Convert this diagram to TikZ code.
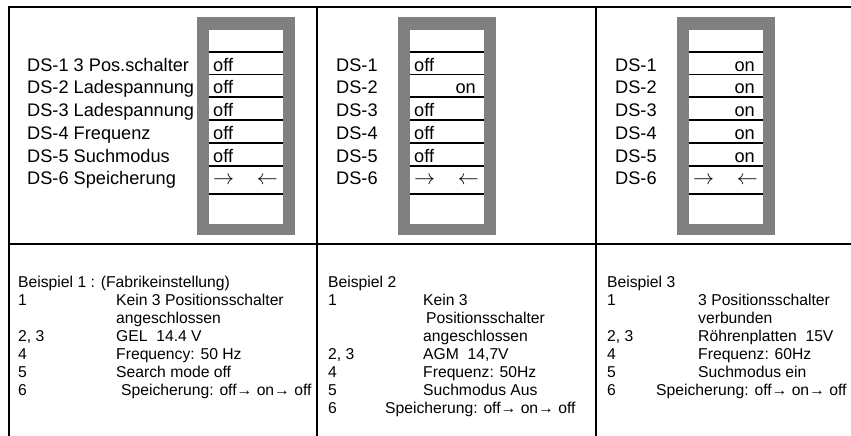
\documentclass[tikz,border=0pt]{standalone}
\usepackage{fix-cm}
\usepackage{fontspec}
\setmainfont{Liberation Sans}
\begin{document}
\begin{tikzpicture}[x=1pt,y=-1pt,
    rule/.style={line width=2.3pt},
    swline/.style={line width=1.3pt},
    lbl/.style={anchor=base west,inner sep=0pt,font=\fontsize{18.2}{22}\selectfont},
    onlbl/.style={anchor=base east,inner sep=0pt,font=\fontsize{18.2}{22}\selectfont},
    arr/.style={inner sep=0pt,font=\fontsize{21}{22}\selectfont},
    txt/.style={anchor=base west,inner sep=0pt,font=\fontsize{15.7}{18}\selectfont}]
            \useasboundingbox (0,0) rectangle (851,436);
            % table
            \draw[rule] (7.85,7) -- (851,7);
            \draw[rule] (7.85,244) -- (851,244);
            \draw[rule] (9,7) -- (9,436);
            \draw[rule] (317,7) -- (317,436);
            \draw[rule] (596,7) -- (596,436);
            % switch blocks
            \foreach \x in {197,398,677} {
                \fill[gray] (\x,17) rectangle (\x+98,235);
                \fill[white] (\x+12,30) rectangle (\x+86,224);
                \foreach \y in {52,74.5,97,120,143,166,194}
                    \draw[swline] (\x+12,\y) -- (\x+86,\y);
            }
            % Beispiel 1
            \node[lbl] (a1) at (27,71) {DS-1 3 Pos.schalter};
            \node[lbl] (a2) at (27,93.5) {DS-2 Ladespannung};
            \node[lbl] (a3) at (27,116.5) {DS-3 Ladespannung};
            \node[lbl] (a4) at (27,139.5) {DS-4 Frequenz};
            \node[lbl] (a5) at (27,162.5) {DS-5 Suchmodus};
            \node[lbl] (a6) at (27,184) {DS-6 Speicherung};
            \node[lbl] (sa1) at (213,71) {off};
            \node[lbl] (sa2) at (213,93.5) {off};
            \node[lbl] (sa3) at (213,116.5) {off};
            \node[lbl] (sa4) at (213,139.5) {off};
            \node[lbl] (sa5) at (213,162.5) {off};
            \node[arr,anchor=west] (ra) at (213,181) {$\rightarrow$};
            \node[arr,anchor=east] (la) at (278,181) {$\leftarrow$};
            % Beispiel 2
            \node[lbl] (b1) at (336,71) {DS-1};
            \node[lbl] (b2) at (336,93.5) {DS-2};
            \node[lbl] (b3) at (336,116.5) {DS-3};
            \node[lbl] (b4) at (336,139.5) {DS-4};
            \node[lbl] (b5) at (336,162.5) {DS-5};
            \node[lbl] (b6) at (336,184) {DS-6};
            \node[lbl] (sb1) at (414,71) {off};
            \node[onlbl] (sb2) at (476,93.5) {on};
            \node[lbl] (sb3) at (414,116.5) {off};
            \node[lbl] (sb4) at (414,139.5) {off};
            \node[lbl] (sb5) at (414,162.5) {off};
            \node[arr,anchor=west] (rb) at (414,181) {$\rightarrow$};
            \node[arr,anchor=east] (lb) at (479,181) {$\leftarrow$};
            % Beispiel 3
            \node[lbl] (c1) at (615,71) {DS-1};
            \node[lbl] (c2) at (615,93.5) {DS-2};
            \node[lbl] (c3) at (615,116.5) {DS-3};
            \node[lbl] (c4) at (615,139.5) {DS-4};
            \node[lbl] (c5) at (615,162.5) {DS-5};
            \node[lbl] (c6) at (615,184) {DS-6};
            \node[onlbl] (sc1) at (755,71) {on};
            \node[onlbl] (sc2) at (755,93.5) {on};
            \node[onlbl] (sc3) at (755,116.5) {on};
            \node[onlbl] (sc4) at (755,139.5) {on};
            \node[onlbl] (sc5) at (755,162.5) {on};
            \node[arr,anchor=west] (rc) at (693,181) {$\rightarrow$};
            \node[arr,anchor=east] (lc) at (758,181) {$\leftarrow$};
            % Erklaerung 1
            \node[txt] (ta0) at (18,287) {Beispiel 1 : (Fabrikeinstellung)};
            \node[txt] (na1) at (18,305) {1};
            \node[txt] (ta1) at (116,305) {Kein 3 Positionsschalter};
            \node[txt] (ta1b) at (116,323) {angeschlossen};
            \node[txt] (na2) at (18,341) {2, 3};
            \node[txt] (ta2) at (116,341) {GEL\ \ 14.4 V};
            \node[txt] (na4) at (18,359) {4};
            \node[txt] (ta4) at (116,359) {Frequency: 50 Hz};
            \node[txt] (na5) at (18,377) {5};
            \node[txt] (ta5) at (116,377) {Search mode off};
            \node[txt] (na6) at (18,395) {6};
            \node[txt] (ta6) at (121,395) {Speicherung: off→ on→ off};
            % Erklaerung 2
            \node[txt] (tb0) at (328,287) {Beispiel 2};
            \node[txt] (nb1) at (328,305) {1};
            \node[txt] (tb1) at (423,305) {Kein 3};
            \node[txt] (tb1b) at (426,323) {Positionsschalter};
            \node[txt] (tb1c) at (423,341) {angeschlossen};
            \node[txt] (nb2) at (328,359) {2, 3};
            \node[txt] (tb2) at (423,359) {AGM\ \ 14,7V};
            \node[txt] (nb4) at (328,377) {4};
            \node[txt] (tb4) at (423,377) {Frequenz: 50Hz};
            \node[txt] (nb5) at (328,395) {5};
            \node[txt] (tb5) at (423,395) {Suchmodus Aus};
            \node[txt] (nb6) at (328,413) {6};
            \node[txt] (tb6) at (385,413) {Speicherung: off→ on→ off};
            % Erklaerung 3
            \node[txt] (tc0) at (607,287) {Beispiel 3};
            \node[txt] (nc1) at (607,305) {1};
            \node[txt] (tc1) at (698,305) {3 Positionsschalter};
            \node[txt] (tc1b) at (698,323) {verbunden};
            \node[txt] (nc2) at (607,341) {2, 3};
            \node[txt] (tc2) at (698,341) {Röhrenplatten\ \ 15V};
            \node[txt] (nc4) at (607,359) {4};
            \node[txt] (tc4) at (698,359) {Frequenz: 60Hz};
            \node[txt] (nc5) at (607,377) {5};
            \node[txt] (tc5) at (698,377) {Suchmodus ein};
            \node[txt] (nc6) at (607,395) {6};
            \node[txt] (tc6) at (656,395) {Speicherung: off→ on→ off};
        \end{tikzpicture}
\end{document}
